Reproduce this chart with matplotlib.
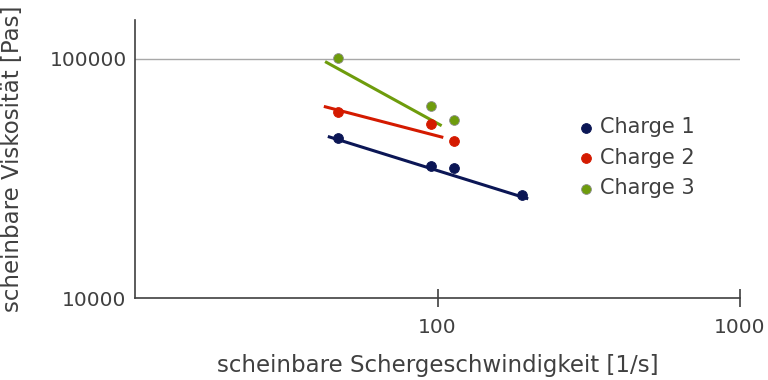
import numpy as np
import matplotlib
matplotlib.use("Agg")
import matplotlib.pyplot as plt
from matplotlib.ticker import FixedLocator, FixedFormatter, NullLocator

# measured points (shear rate [1/s], viscosity [Pas])
series = ["Charge 1", "Charge 2", "Charge 3"]
colors = ["#0b1655", "#d41a00", "#6e9c0c"]

x1 = [47, 95, 113, 190]
y1 = [46700, 35700, 34900, 27000]
x2 = [47, 95, 113]
y2 = [60000, 53100, 45300]
x3 = [47, 95, 113]
y3 = [100500, 63600, 55400]

# trend lines (power fit) as drawn, start/end points
t1x = [43.4, 199.5]
t1y = [47300, 25960]
t2x = [42.1, 104.5]
t2y = [63150, 46850]
t3x = [42.5, 103.2]
t3y = [97200, 52450]

txtc = "#404040"

fig = plt.figure(figsize=(7.68, 3.80), dpi=100)
ax = fig.add_axes([135/768, 1 - 298/380, (740 - 135)/768, (298 - 20)/380])

data = [(x1, y1, t1x, t1y), (x2, y2, t2x, t2y), (x3, y3, t3x, t3y)]
for (xs, ys, tx, ty), c, name in zip(data, colors, series):
    ax.plot(tx, ty, color=c, lw=2.2, solid_capstyle="butt", zorder=2)
    ec = "#909090" if c == colors[2] else c
    ax.scatter(xs, ys, s=50, color=c, edgecolors=ec, linewidths=0.6, zorder=3, label=name)

ax.set_xscale("log")
ax.set_yscale("log")
ax.set_xlim(10, 1000)
ax.set_ylim(10000, 145000)

ax.xaxis.set_major_locator(FixedLocator([100, 1000]))
ax.xaxis.set_major_formatter(FixedFormatter(["100", "1000"]))
ax.xaxis.set_minor_locator(NullLocator())
ax.yaxis.set_major_locator(FixedLocator([10000, 100000]))
ax.yaxis.set_major_formatter(FixedFormatter(["10000", "100000"]))
ax.yaxis.set_minor_locator(NullLocator())

ax.tick_params(axis="x", direction="inout", length=13, width=1.2, color=txtc,
               labelsize=14.5, labelcolor=txtc, pad=8)
ax.tick_params(axis="y", length=0, labelsize=14.5, labelcolor=txtc, pad=6)
ax.axhline(100000, color="#a8a8a8", lw=1, zorder=1)

for s in ["top", "right"]:
    ax.spines[s].set_visible(False)
for s in ["left", "bottom"]:
    ax.spines[s].set_color(txtc)
    ax.spines[s].set_linewidth(1.2)

ax.set_xlabel("scheinbare Schergeschwindigkeit [1/s]", fontsize=16.5, color=txtc, labelpad=12)
ax.set_ylabel("scheinbare Viskosität [Pas]", fontsize=16.5, color=txtc)
ax.yaxis.set_label_coords(-0.184, 0.5)

ax.legend(loc="center left", bbox_to_anchor=(0.711, 0.504), frameon=False, fontsize=15,
          handletextpad=0.07, labelspacing=0.5, borderaxespad=0, scatterpoints=1,
          labelcolor=txtc, handlelength=1.2)

fig.savefig("out.png", dpi=100)
